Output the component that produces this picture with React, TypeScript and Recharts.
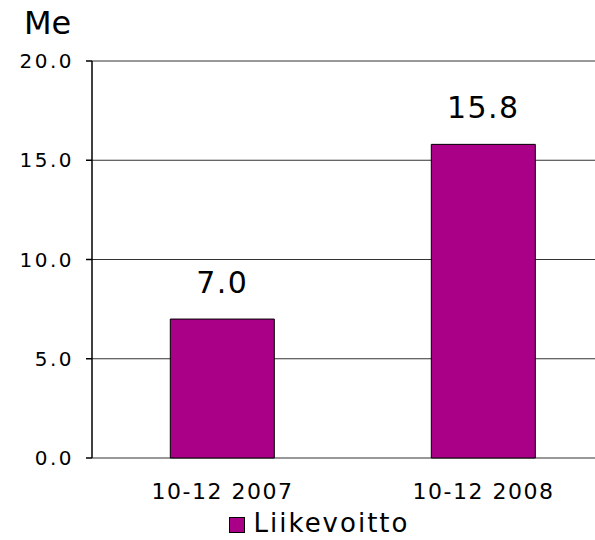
import React from 'react';
import { BarChart, Bar, XAxis, YAxis, CartesianGrid, LabelList, Legend } from 'recharts';

const categories = ['10-12 2007', '10-12 2008'];
const liikevoitto = [7.0, 15.8];
const yTicks = [0, 5, 10, 15, 20];
const seriesName = 'Liikevoitto';
const unitLabel = 'Me';

const data = categories.map((c, i) => ({ name: c, idx: i + 0.5, value: liikevoitto[i] }));

const FONT = '"DejaVu Sans", Verdana, sans-serif';
const BAR_COLOR = '#AA0088';

const LegendContent = () => (
  <div style={{ display: 'flex', justifyContent: 'center', alignItems: 'center', fontFamily: FONT, fontSize: 26, letterSpacing: 2, color: '#000', marginLeft: 24, lineHeight: '24px', height: 24 }}>
    <span style={{ display: 'inline-block', width: 14, height: 14, background: BAR_COLOR, border: '1px solid #000', marginRight: 9, marginTop: 4 }} />
    <span>{seriesName}</span>
  </div>
);

export default function App() {
  return (
    <div style={{ position: 'absolute', left: 0, top: 0, width: 595, height: 540, overflow: 'hidden', background: '#fff' }}>
      <div style={{ position: 'absolute', left: 24, top: 3, fontFamily: FONT, fontSize: 32, color: '#000', lineHeight: '40px' }}>{unitLabel}</div>
      <BarChart
        width={622}
        height={540}
        data={data}
        margin={{ top: 61, right: 8, bottom: 4, left: 0 }}
        barCategoryGap="30%"
      >
        <CartesianGrid vertical={false} stroke="#333" strokeWidth={1.2} />
        <XAxis
          xAxisId="bound"
          type="number"
          dataKey="idx"
          domain={[0, 2]}
          ticks={[0, 1, 2]}
          height={0}
          tick={false}
          tickSize={6}
          axisLine={{ stroke: '#000', strokeWidth: 1.5 }}
          tickLine={{ stroke: '#000', strokeWidth: 1.5 }}
        />
        <XAxis
          xAxisId="cat"
          dataKey="name"
          height={48}
          axisLine={false}
          tickLine={false}
          tickMargin={19}
          tick={{ fill: '#000', fontSize: 22, fontFamily: FONT, style: { letterSpacing: 1.5 } }}
        />
        <YAxis
          width={92}
          domain={[0, 20]}
          ticks={yTicks}
          tickFormatter={(v: number) => v.toFixed(1)}
          tickSize={6}
          tickMargin={12}
          axisLine={{ stroke: '#000', strokeWidth: 1.5 }}
          tickLine={{ stroke: '#000', strokeWidth: 1.5 }}
          tick={{ fill: '#000', fontSize: 20, fontFamily: FONT, style: { letterSpacing: 2.5 } }}
        />
        <Legend height={30} verticalAlign="bottom" wrapperStyle={{ top: 511 }} content={<LegendContent />} />
        <Bar dataKey="value" xAxisId="cat" name={seriesName} fill={BAR_COLOR} stroke="#000" strokeWidth={1} isAnimationActive={false}>
          <LabelList
            dataKey="value"
            position="top"
            offset={26}
            formatter={(v: number) => v.toFixed(1)}
            style={{ fill: '#000', fontSize: 30, fontFamily: FONT, letterSpacing: 1.5 }}
          />
        </Bar>
      </BarChart>
    </div>
  );
}
